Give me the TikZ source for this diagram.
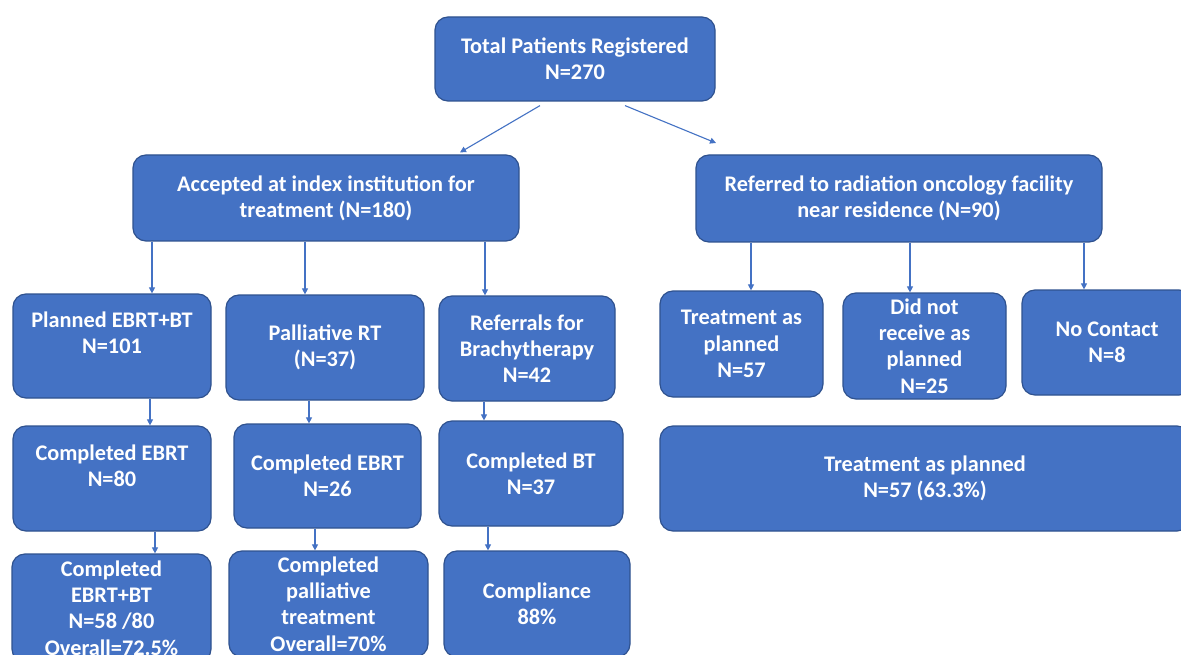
\documentclass[tikz,border=0pt]{standalone}
\usepackage{fontspec}
\setmainfont{Carlito}
\usetikzlibrary{arrows.meta,calc}
\definecolor{boxfill}{HTML}{4472C4}
\definecolor{boxline}{HTML}{2F528F}
\definecolor{arrcol}{HTML}{4472C4}
\begin{document}
\begin{tikzpicture}[x=1pt,y=-1pt,
  box/.style={draw=boxline,line width=1.2pt,fill=boxfill,rounded corners=13pt,
    text=white,font=\bfseries\fontsize{22.3}{26.3}\selectfont,align=center,inner sep=0pt},
  arr/.style={draw=arrcol,line width=1.1pt,-{Triangle[length=6pt,width=6pt]}}]
\fill[white] (0,0) rectangle (1181,655);
\useasboundingbox (0,0) rectangle (1181,655);
% top
\node[box,minimum width=280pt,minimum height=84pt] (top) at (575,59) {Total Patients Registered\\N=270};
\node[box,minimum width=386pt,minimum height=86pt] (acc) at (326,198) {Accepted at index institution for\\treatment (N=180)};
\node[box,minimum width=406pt,minimum height=87pt] (ref) at (899,198.5) {Referred to radiation oncology facility\\near residence (N=90)};
% left column rows
\node[box,minimum width=198pt,minimum height=104pt] (p1) at (112,346) {Planned EBRT+BT\\N=101\\\mbox{}};
\node[box,minimum width=198pt,minimum height=105pt] (p2) at (325,347.5) {Palliative RT\\(N=37)};
\node[box,minimum width=176pt,minimum height=105pt] (p3) at (527,348.5) {Referrals for\\Brachytherapy\\N=42};
\node[box,minimum width=198pt,minimum height=105pt] (c1) at (112,478.5) {Completed EBRT\\N=80\\\mbox{}};
\node[box,minimum width=187pt,minimum height=104pt] (c2) at (327.5,476) {Completed EBRT\\N=26};
\node[box,minimum width=184pt,minimum height=105pt] (c3) at (531,473.5) {Completed BT\\N=37};
\node[box,minimum width=199pt,minimum height=108pt] (d1) at (111.5,608) {Completed\\EBRT+BT\\N=58 /80\\Overall=72.5\%};
\node[box,minimum width=199pt,minimum height=106pt] (d2) at (328.5,604) {Completed\\palliative\\treatment\\Overall=70\%};
\node[box,minimum width=186pt,minimum height=106pt] (d3) at (537,604) {Compliance\\88\%};
% right
\node[box,minimum width=163pt,minimum height=106pt] (r1) at (741.5,344) {Treatment as\\planned\\N=57};
\node[box,minimum width=163pt,minimum height=106pt] (r2) at (924.5,346) {Did not\\receive as\\planned\\N=25};
\node[box,minimum width=170pt,minimum height=105pt] (r3) at (1107,342.5) {No Contact\\N=8};
\node[box,minimum width=530pt,minimum height=105pt] (big) at (925,478.5) {Treatment as planned\\N=57 (63.3\%)};
% arrow x positions
\coordinate (xa1) at (152,0);
\coordinate (xa2) at (305,0);
\coordinate (xa3) at (485,0);
\coordinate (xb1) at (751,0);
\coordinate (xb2) at (910,0);
\coordinate (xb3) at (1084,0);
\coordinate (xc1) at (150,0);
\coordinate (xc2) at (309,0);
\coordinate (xc3) at (484,0);
\coordinate (xd1) at (155,0);
\coordinate (xd2) at (315,0);
\coordinate (xd3) at (488,0);
\coordinate (refend) at (716,143);
% arrows
\draw[arr] ($(top.south)+(-35,4)$) -- ($(acc.north)+(134,-2)$);
\draw[arr] ($(top.south)+(50,4)$) -- (refend);
\draw[arr] (acc.south -| xa1) -- (p1.north -| xa1);
\draw[arr] (acc.south -| xa2) -- (p2.north -| xa2);
\draw[arr] (acc.south -| xa3) -- (p3.north -| xa3);
\draw[arr] (ref.south -| xb1) -- (r1.north -| xb1);
\draw[arr] (ref.south -| xb2) -- (r2.north -| xb2);
\draw[arr] (ref.south -| xb3) -- (r3.north -| xb3);
\draw[arr] (p1.south -| xc1) -- (c1.north -| xc1);
\draw[arr] (p2.south -| xc2) -- (c2.north -| xc2);
\draw[arr] (p3.south -| xc3) -- (c3.north -| xc3);
\draw[arr] (c1.south -| xd1) -- (d1.north -| xd1);
\draw[arr] (c2.south -| xd2) -- (d2.north -| xd2);
\draw[arr] (c3.south -| xd3) -- (d3.north -| xd3);
\end{tikzpicture}
\end{document}
